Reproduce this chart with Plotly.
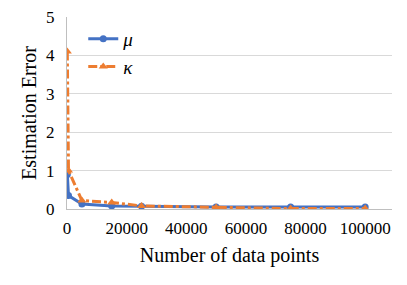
import plotly.graph_objects as go

mu_x = [100, 500, 5000, 15000, 25000, 50000, 75000, 100000]
mu_y = [0.9, 0.35, 0.13, 0.08, 0.07, 0.05, 0.05, 0.05]
kappa_x = [100, 500, 5000, 15000, 25000, 50000, 75000, 100000]
kappa_y = [4.1, 1.0, 0.22, 0.17, 0.08, 0.04, 0.01, 0.01]
x_ticks = [0, 20000, 40000, 60000, 80000, 100000]
y_ticks = [0, 1, 2, 3, 4, 5]

BLUE = "#4472C4"
ORANGE = "#ED7D31"
FONT = "Liberation Serif"

fig = go.Figure()
fig.add_trace(go.Scatter(
    x=mu_x, y=mu_y, name="<i>μ</i>", mode="lines+markers",
    line=dict(color=BLUE, width=3), marker=dict(symbol="circle", size=7, color=BLUE),
))
fig.add_trace(go.Scatter(
    x=kappa_x, y=kappa_y, name="<i>κ</i>", mode="lines+markers",
    line=dict(color=ORANGE, width=3, dash="dashdot"),
    marker=dict(symbol="triangle-up", size=8, color=ORANGE),
))

fig.update_layout(
    width=407, height=285,
    margin=dict(l=67, r=15, t=17, b=76, autoexpand=False),
    paper_bgcolor="white", plot_bgcolor="white",
    font=dict(family=FONT, size=17, color="#000000"),
    showlegend=True,
    legend=dict(x=0.05, y=0.985, xanchor="left", yanchor="top",
                bgcolor="rgba(0,0,0,0)", font=dict(size=19, family=FONT, color="#000000"),
                itemwidth=30, tracegroupgap=0),
    xaxis=dict(range=[0, 109000], tickvals=x_ticks, ticktext=[str(v) for v in x_ticks],
               showgrid=False, zeroline=False, showline=True, linecolor="#BFBFBF",
               linewidth=1, ticks="outside", ticklen=4, tickcolor="rgba(0,0,0,0)",
               automargin=False,
               tickfont=dict(size=17, family=FONT, color="#000000"),
               title=dict(text="Number of data points", font=dict(size=20, family=FONT), standoff=10)),
    yaxis=dict(range=[0, 5], tickvals=y_ticks, showgrid=True, gridcolor="#D9D9D9",
               zeroline=False, showline=True, linecolor="#BFBFBF", linewidth=1,
               ticks="outside", ticklen=8, tickcolor="rgba(0,0,0,0)", automargin=False,
               tickfont=dict(size=17, family=FONT, color="#000000"),
               title=dict(text="Estimation Error", font=dict(size=20, family=FONT), standoff=4)),
)

fig.write_html("out.html", config={"displayModeBar": False},
               post_script="document.body.style.margin='0px';document.body.style.overflow='hidden';")
